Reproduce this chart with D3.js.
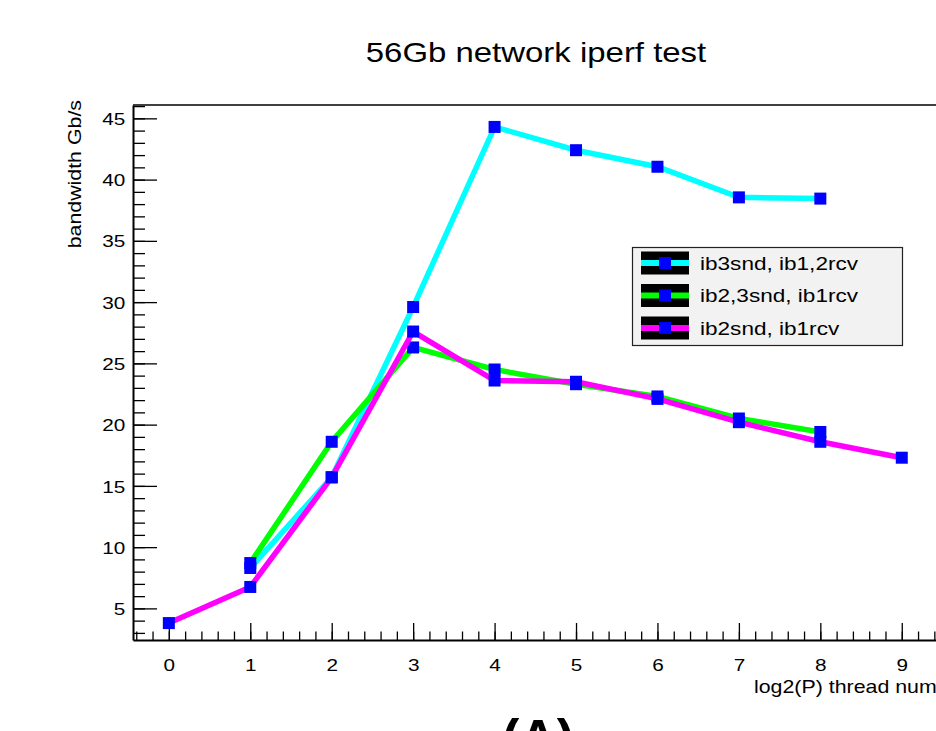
<!DOCTYPE html>
<html>
<head>
<meta charset="utf-8">
<script src="https://cdn.jsdelivr.net/npm/d3@7"></script>
<style>
  html, body { margin: 0; padding: 0; background: #fff; overflow: hidden; }
  text { font-family: "Liberation Sans", Arial, Helvetica, sans-serif; }
</style>
</head>
<body>
<div id="app"></div>
<script>
// data
const threads = [0, 1, 2, 3, 4, 5, 6, 7, 8, 9]
const ib3snd_x = [1, 2, 3, 4, 5, 6, 7, 8]
const ib3snd_bw = [8.3, 15.7, 29.6, 44.3, 42.4, 41.05, 38.55, 38.45]
const ib23snd_x = [1, 2, 3, 4, 5, 6, 7, 8]
const ib23snd_bw = [8.7, 18.6, 26.3, 24.5, 23.3, 22.3, 20.5, 19.4]
const ib2snd_x = threads
const ib2snd_bw = [3.8, 6.75, 15.7, 27.6, 23.6, 23.5, 22.1, 20.2, 18.6, 17.3]
const seriesNames = ["ib3snd, ib1,2rcv", "ib2,3snd, ib1rcv", "ib2snd, ib1rcv"]
const seriesColors = ["#00ffff", "#00ff00", "#ff00ff"]
const yMajor = [5, 10, 15, 20, 25, 30, 35, 40, 45]

let width = 936, height = 731
let stretch = 1.22   // text in the original is drawn wider than normal

let svg = d3.select("#app").append("svg")
    .attr("width", width)
    .attr("height", height)

let x = d3.scaleLinear().domain([-0.44, 9.44]).range([133, 937.6])
let y = d3.scaleLinear().domain([2.42, 46.09]).range([640, 105])

// title
svg.append("text")
    .attr("transform", "translate(536,62) scale(" + stretch + ",1)")
    .attr("text-anchor", "middle")
    .attr("font-size", 27)
    .text("56Gb network iperf test")

// frame top line
svg.append("line")
    .attr("x1", 133).attr("x2", width)
    .attr("y1", 105).attr("y2", 105)
    .attr("stroke", "#000").attr("stroke-width", 1.5)

// minor ticks
svg.append("g")
    .attr("transform", "translate(133,0)")
    .call(d3.axisLeft(y).tickValues(d3.range(3, 47)).tickSize(-12).tickFormat(""))
    .call(g => g.select(".domain").remove())
svg.append("g")
    .attr("transform", "translate(0,640)")
    .call(d3.axisBottom(x).tickValues(d3.range(-2, 48).map(d => d / 5)).tickSize(-8.5).tickFormat(""))
    .call(g => g.select(".domain").remove())

// major axes
let yAxis = svg.append("g")
    .attr("transform", "translate(133,0)")
    .call(d3.axisLeft(y).tickValues(yMajor).tickSize(-24).tickSizeOuter(0).tickPadding(6.3))
let xAxis = svg.append("g")
    .attr("transform", "translate(0,640)")
    .call(d3.axisBottom(x).tickValues(threads).tickSize(-17).tickSizeOuter(0).tickPadding(19))

svg.selectAll(".tick line").attr("stroke", "#000").attr("stroke-width", 1.3)
svg.selectAll(".domain").attr("stroke", "#000").attr("stroke-width", 2)
yAxis.selectAll("text")
    .attr("font-size", 17)
    .attr("font-family", "Liberation Sans, Arial, sans-serif")
    .attr("fill", "#000")
    .attr("dy", "0.36em")
    .attr("transform", "scale(" + stretch + ",1)")
xAxis.selectAll("text")
    .attr("font-size", 17)
    .attr("font-family", "Liberation Sans, Arial, sans-serif")
    .attr("fill", "#000")
    .attr("transform", "scale(" + stretch + ",1)")

// axis titles
svg.append("text")
    .attr("transform", "translate(81,100) rotate(-90) scale(" + stretch + ",1)")
    .attr("text-anchor", "end")
    .attr("font-size", 17.5)
    .text("bandwidth Gb/s")
svg.append("text")
    .attr("transform", "translate(754,693) scale(" + stretch + ",1)")
    .attr("font-size", 17.5)
    .text("log2(P) thread number")

// graphs
let graphs = [
    {name: seriesNames[0], color: seriesColors[0], pts: ib3snd_x.map((v, i) => [v, ib3snd_bw[i]])},
    {name: seriesNames[1], color: seriesColors[1], pts: ib23snd_x.map((v, i) => [v, ib23snd_bw[i]])},
    {name: seriesNames[2], color: seriesColors[2], pts: ib2snd_x.map((v, i) => [v, ib2snd_bw[i]])}
]

let line = d3.line().x(d => x(d[0])).y(d => y(d[1]))
let ms = 12

graphs.forEach(gr => {
    let g = svg.append("g")
    g.append("path")
        .attr("d", line(gr.pts))
        .attr("fill", "none")
        .attr("stroke", gr.color)
        .attr("stroke-width", 5.5)
    g.selectAll("rect")
        .data(gr.pts)
        .enter().append("rect")
        .attr("x", d => x(d[0]) - ms / 2)
        .attr("y", d => y(d[1]) - ms / 2)
        .attr("width", ms)
        .attr("height", ms)
        .attr("fill", "#0000ff")
})

// legend
let legend = svg.append("g")
legend.append("rect")
    .attr("x", 632.5).attr("y", 247.5)
    .attr("width", 270).attr("height", 98)
    .attr("fill", "#f2f2f2")
    .attr("stroke", "#222").attr("stroke-width", 1.2)

let item = legend.selectAll("g.item")
    .data(graphs)
    .enter().append("g")
    .attr("class", "item")
    .attr("transform", (d, i) => "translate(0," + (263 + i * 32.5) + ")")
item.append("rect")
    .attr("x", 641).attr("y", -11.5)
    .attr("width", 48).attr("height", 23)
    .attr("fill", "#000")
item.append("line")
    .attr("x1", 641).attr("x2", 689)
    .attr("stroke", d => d.color)
    .attr("stroke-width", 6)
item.append("rect")
    .attr("x", 665 - ms / 2).attr("y", -ms / 2)
    .attr("width", ms).attr("height", ms)
    .attr("fill", "#0000ff")
item.append("text")
    .attr("transform", "translate(700,6.5) scale(" + stretch + ",1)")
    .attr("font-size", 18.5)
    .text(d => d.name)

// panel label, mostly below the page edge
svg.append("text")
    .attr("x", 538).attr("y", 756)
    .attr("text-anchor", "middle")
    .attr("font-size", 52)
    .attr("font-weight", "bold")
    .text("(A)")
</script>
</body>
</html>
